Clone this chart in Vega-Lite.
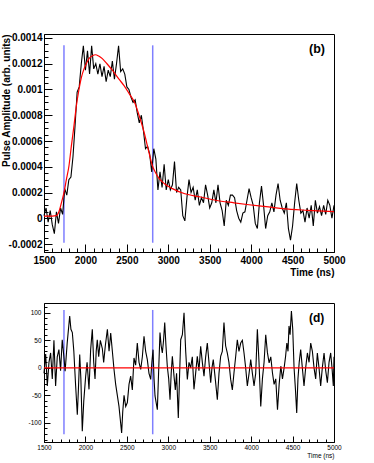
{
  "$schema": "https://vega.github.io/schema/vega-lite/v6.json",
  "padding": {"left": 0, "top": 32, "right": 5, "bottom": 5},
  "spacing": 24,
  "config": {
    "font": "Liberation Sans",
    "view": {"stroke": "black", "strokeWidth": 1},
    "axis": {"grid": false, "domainColor": "black", "tickColor": "black", "labelColor": "black", "titleColor": "black", "labelOverlap": false, "labelFlush": false, "labelBound": false}
  },
  "datasets": {
    "cutsTop": [{"t": 1741, "v": 0.001343, "lo": -0.00019}, {"t": 2812, "v": 0.001343, "lo": -0.00019}],
    "cutsBottom": [{"t": 1741, "v": 105, "lo": -120.5}, {"t": 2812, "v": 105, "lo": -120.5}],
    "top": [
      {"t":1500,"v":0.00002},{"t":1525,"v":0.00008},{"t":1550,"v":-0.00003},{"t":1575,"v":0.00006},{"t":1600,"v":-0.00005},{"t":1625,"v":-0.00012},{"t":1650,"v":0.00005},{"t":1675,"v":-0.00004},{"t":1700,"v":0.00008},{"t":1725,"v":0.00003},
      {"t":1750,"v":0.00023},{"t":1775,"v":0.00018},{"t":1800,"v":0.0003},{"t":1825,"v":0.00032},{"t":1850,"v":0.00048},{"t":1875,"v":0.00072},{"t":1900,"v":0.00098},{"t":1925,"v":0.00102},{"t":1950,"v":0.0012},{"t":1975,"v":0.00134},
      {"t":2000,"v":0.00115},{"t":2025,"v":0.0013},{"t":2050,"v":0.00112},{"t":2075,"v":0.00134},{"t":2100,"v":0.00116},{"t":2125,"v":0.0012},{"t":2150,"v":0.00112},{"t":2175,"v":0.0012},{"t":2200,"v":0.0011},{"t":2225,"v":0.00118},
      {"t":2250,"v":0.00106},{"t":2275,"v":0.00115},{"t":2300,"v":0.0011},{"t":2325,"v":0.00122},{"t":2350,"v":0.00108},{"t":2375,"v":0.0012},{"t":2400,"v":0.00134},{"t":2425,"v":0.00114},{"t":2450,"v":0.00116},{"t":2475,"v":0.00112},
      {"t":2500,"v":0.00102},{"t":2525,"v":0.001},{"t":2550,"v":0.00094},{"t":2575,"v":0.0009},{"t":2600,"v":0.00092},{"t":2625,"v":0.00082},{"t":2650,"v":0.00074},{"t":2675,"v":0.0008},{"t":2700,"v":0.00068},{"t":2725,"v":0.00054},
      {"t":2750,"v":0.00056},{"t":2775,"v":0.0005},{"t":2800,"v":0.00036},{"t":2825,"v":0.00054},{"t":2850,"v":0.00046},{"t":2875,"v":0.00022},{"t":2900,"v":0.00036},{"t":2925,"v":0.00024},{"t":2950,"v":0.00042},{"t":2975,"v":0.00022},
      {"t":3000,"v":0.0003},{"t":3025,"v":0.00022},{"t":3050,"v":0.00026},{"t":3075,"v":0.00044},{"t":3100,"v":0.0002},{"t":3125,"v":0.00024},{"t":3150,"v":0.00022},{"t":3175,"v":0.00002},{"t":3200,"v":-0.00002},{"t":3225,"v":0.00016},
      {"t":3250,"v":0.0003},{"t":3275,"v":0.0002},{"t":3300,"v":0.00024},{"t":3325,"v":0.00014},{"t":3350,"v":0.00022},{"t":3375,"v":0.0001},{"t":3400,"v":0.00016},{"t":3425,"v":0.00012},{"t":3450,"v":0.00026},{"t":3475,"v":0.00018},
      {"t":3500,"v":0.00008},{"t":3525,"v":0.00012},{"t":3550,"v":0.00022},{"t":3575,"v":0.00012},{"t":3600,"v":0.00026},{"t":3625,"v":0.00012},{"t":3650,"v":0.00006},{"t":3675,"v":-0.00006},{"t":3700,"v":0.00014},{"t":3725,"v":0.0001},
      {"t":3750,"v":0.00018},{"t":3775,"v":0.00018},{"t":3800,"v":0.00016},{"t":3825,"v":0.00006},{"t":3850,"v":0.0},{"t":3875,"v":-0.00003},{"t":3900,"v":0.00004},{"t":3925,"v":0.00005},{"t":3950,"v":0.00014},{"t":3975,"v":0.00023},
      {"t":4000,"v":0.00016},{"t":4025,"v":0.0001},{"t":4050,"v":-0.00004},{"t":4075,"v":-0.00008},{"t":4100,"v":0.00012},{"t":4125,"v":0.00025},{"t":4150,"v":0.0001},{"t":4175,"v":-0.00008},{"t":4200,"v":0.00002},{"t":4225,"v":0.00005},
      {"t":4250,"v":0.00012},{"t":4275,"v":0.00005},{"t":4300,"v":0.00018},{"t":4325,"v":0.00027},{"t":4350,"v":0.00014},{"t":4375,"v":0.00008},{"t":4400,"v":0.00004},{"t":4425,"v":0.00012},{"t":4450,"v":-0.00008},{"t":4475,"v":-0.00017},
      {"t":4500,"v":-0.00006},{"t":4525,"v":0.00012},{"t":4550,"v":0.00027},{"t":4575,"v":0.00014},{"t":4600,"v":0.00004},{"t":4625,"v":0.00006},{"t":4650,"v":-0.00003},{"t":4675,"v":0.00008},{"t":4700,"v":0.0},{"t":4725,"v":0.0001},
      {"t":4750,"v":-0.00006},{"t":4775,"v":0.00014},{"t":4800,"v":0.00004},{"t":4825,"v":0.00009},{"t":4850,"v":0.00002},{"t":4875,"v":0.0001},{"t":4900,"v":0.00003},{"t":4925,"v":0.00014},{"t":4950,"v":0.0001},{"t":4975,"v":0.0},{"t":5000,"v":0.0001}
    ],
    "fit": [
      {"t":1500,"v":0.000017},{"t":1600,"v":0.000017},{"t":1650,"v":0.00002},{"t":1680,"v":0.00005},{"t":1710,"v":0.00012},{"t":1741,"v":0.0002},{"t":1770,"v":0.0003},{"t":1802,"v":0.00041},{"t":1830,"v":0.00056},{"t":1862,"v":0.00072},
      {"t":1890,"v":0.00087},{"t":1922,"v":0.001},{"t":1950,"v":0.00109},{"t":1983,"v":0.00116},{"t":2010,"v":0.0012},{"t":2043,"v":0.00124},{"t":2080,"v":0.00126},{"t":2124,"v":0.00127},{"t":2160,"v":0.00126},{"t":2204,"v":0.00124},
      {"t":2260,"v":0.0012},{"t":2325,"v":0.00115},{"t":2405,"v":0.00108},{"t":2466,"v":0.00103},{"t":2526,"v":0.00097},{"t":2600,"v":0.00089},{"t":2647,"v":0.0008},{"t":2707,"v":0.00067},{"t":2767,"v":0.00051},{"t":2807,"v":0.00041},
      {"t":2850,"v":0.00035},{"t":2888,"v":0.00031},{"t":2950,"v":0.00027},{"t":3050,"v":0.00023},{"t":3200,"v":0.00019},{"t":3390,"v":0.000165},{"t":3572,"v":0.00014},{"t":3793,"v":0.00012},{"t":3974,"v":0.000105},{"t":4180,"v":0.00009},
      {"t":4377,"v":0.000075},{"t":4680,"v":0.000062},{"t":5000,"v":0.000052}
    ],
    "resid": [
      {"t":1500,"v":-10},{"t":1520,"v":25},{"t":1540,"v":-33},{"t":1560,"v":10},{"t":1580,"v":27},{"t":1600,"v":-20},{"t":1620,"v":50},{"t":1640,"v":-33},{"t":1660,"v":20},{"t":1680,"v":33},
      {"t":1700,"v":-5},{"t":1720,"v":51},{"t":1740,"v":20},{"t":1755,"v":-6},{"t":1780,"v":45},{"t":1810,"v":94},{"t":1825,"v":70},{"t":1842,"v":64},{"t":1860,"v":30},{"t":1882,"v":-33},
      {"t":1902,"v":-85},{"t":1915,"v":-40},{"t":1931,"v":24},{"t":1945,"v":-20},{"t":1962,"v":-115},{"t":1980,"v":-60},{"t":2003,"v":-15},{"t":2020,"v":10},{"t":2043,"v":-39},{"t":2063,"v":33},
      {"t":2083,"v":70},{"t":2100,"v":10},{"t":2116,"v":-20},{"t":2130,"v":30},{"t":2143,"v":51},{"t":2160,"v":20},{"t":2180,"v":50},{"t":2204,"v":35},{"t":2220,"v":10},{"t":2240,"v":40},
      {"t":2265,"v":70},{"t":2285,"v":30},{"t":2305,"v":63},{"t":2325,"v":30},{"t":2345,"v":-3},{"t":2365,"v":-30},{"t":2385,"v":-50},{"t":2405,"v":-70},{"t":2425,"v":-100},{"t":2437,"v":-118},
      {"t":2450,"v":-80},{"t":2466,"v":-50},{"t":2486,"v":-70},{"t":2506,"v":-63},{"t":2526,"v":-30},{"t":2546,"v":-15},{"t":2566,"v":-40},{"t":2586,"v":18},{"t":2606,"v":5},{"t":2626,"v":45},
      {"t":2647,"v":10},{"t":2667,"v":-3},{"t":2687,"v":20},{"t":2707,"v":57},{"t":2727,"v":30},{"t":2747,"v":15},{"t":2767,"v":-10},{"t":2788,"v":-21},{"t":2802,"v":10},{"t":2816,"v":33},
      {"t":2828,"v":-20},{"t":2840,"v":-51},{"t":2868,"v":-76},{"t":2885,"v":0},{"t":2900,"v":64},{"t":2914,"v":40},{"t":2928,"v":27},{"t":2943,"v":50},{"t":2957,"v":82},{"t":2972,"v":40},
      {"t":2988,"v":3},{"t":3005,"v":-20},{"t":3021,"v":-58},{"t":3035,"v":-10},{"t":3049,"v":21},{"t":3069,"v":-15},{"t":3085,"v":-40},{"t":3100,"v":-10},{"t":3121,"v":-91},{"t":3135,"v":-20},
      {"t":3150,"v":51},{"t":3170,"v":60},{"t":3190,"v":100},{"t":3210,"v":30},{"t":3230,"v":-21},{"t":3250,"v":10},{"t":3270,"v":0},{"t":3290,"v":20},{"t":3310,"v":-39},{"t":3330,"v":-10},
      {"t":3350,"v":21},{"t":3370,"v":-5},{"t":3391,"v":39},{"t":3411,"v":10},{"t":3431,"v":-15},{"t":3451,"v":20},{"t":3471,"v":45},{"t":3491,"v":10},{"t":3512,"v":-27},{"t":3527,"v":0},
      {"t":3543,"v":15},{"t":3567,"v":-20},{"t":3592,"v":-58},{"t":3612,"v":-10},{"t":3632,"v":21},{"t":3652,"v":30},{"t":3672,"v":82},{"t":3692,"v":40},{"t":3712,"v":27},{"t":3732,"v":10},
      {"t":3753,"v":-21},{"t":3773,"v":-40},{"t":3793,"v":-9},{"t":3813,"v":20},{"t":3833,"v":51},{"t":3853,"v":30},{"t":3874,"v":45},{"t":3894,"v":50},{"t":3914,"v":27},{"t":3934,"v":0},
      {"t":3954,"v":-33},{"t":3975,"v":-10},{"t":3995,"v":15},{"t":4015,"v":-10},{"t":4035,"v":-33},{"t":4055,"v":-10},{"t":4075,"v":70},{"t":4095,"v":10},{"t":4116,"v":-70},{"t":4136,"v":-20},
      {"t":4156,"v":10},{"t":4176,"v":60},{"t":4196,"v":28},{"t":4217,"v":9},{"t":4237,"v":20},{"t":4257,"v":-9},{"t":4277,"v":-30},{"t":4297,"v":-20},{"t":4318,"v":-76},{"t":4338,"v":-30},
      {"t":4358,"v":3},{"t":4378,"v":-20},{"t":4398,"v":0},{"t":4415,"v":20},{"t":4431,"v":45},{"t":4445,"v":30},{"t":4457,"v":76},{"t":4470,"v":60},{"t":4486,"v":103},{"t":4502,"v":70},
      {"t":4518,"v":0},{"t":4535,"v":-40},{"t":4550,"v":-82},{"t":4565,"v":-20},{"t":4580,"v":10},{"t":4598,"v":33},{"t":4618,"v":0},{"t":4638,"v":-33},{"t":4658,"v":0},{"t":4679,"v":27},
      {"t":4699,"v":10},{"t":4719,"v":45},{"t":4739,"v":30},{"t":4759,"v":0},{"t":4779,"v":-20},{"t":4799,"v":27},{"t":4819,"v":0},{"t":4839,"v":-33},{"t":4859,"v":0},{"t":4880,"v":27},
      {"t":4900,"v":-5},{"t":4920,"v":-27},{"t":4940,"v":10},{"t":4960,"v":27},{"t":4976,"v":0},{"t":4992,"v":-33},{"t":5000,"v":20}
    ]
  },
  "vconcat": [
    {
      "width": 290,
      "height": 218,
      "encoding": {
        "x": {
          "field": "t", "type": "quantitative",
          "scale": {"domain": [1500, 5000], "nice": false, "zero": false},
          "axis": {
            "values": [1500,1600,1700,1800,1900,2000,2100,2200,2300,2400,2500,2600,2700,2800,2900,3000,3100,3200,3300,3400,3500,3600,3700,3800,3900,4000,4100,4200,4300,4400,4500,4600,4700,4800,4900,5000],
            "format": "d",
            "labelExpr": "datum.value % 500 === 0 ? datum.label : ''",
            "tickSize": {"condition": {"test": "datum.value % 500 === 0", "value": -8}, "value": -4},
            "labelFontSize": 10, "labelFontWeight": "bold", "labelPadding": 11,
            "title": "Time (ns)", "titleAnchor": "end", "titleFontSize": 10, "titleFontWeight": "bold", "titlePadding": -2
          }
        },
        "y": {
          "field": "v", "type": "quantitative",
          "scale": {"domain": [-0.000262, 0.001431], "nice": false, "zero": false},
          "axis": {
            "values": [-0.00025,-0.0002,-0.00015,-0.0001,-0.00005,0,0.00005,0.0001,0.00015,0.0002,0.00025,0.0003,0.00035,0.0004,0.00045,0.0005,0.00055,0.0006,0.00065,0.0007,0.00075,0.0008,0.00085,0.0009,0.00095,0.001,0.00105,0.0011,0.00115,0.0012,0.00125,0.0013,0.00135,0.0014],
            "labelExpr": "abs(datum.value*10000 - 2*round(datum.value*5000)) < 0.01 ? (abs(datum.value) < 0.000001 ? '0' : replace(format(datum.value, '.4~f'), '\u2212', '-')) : ''",
            "tickSize": {"condition": {"test": "abs(datum.value*10000 - 2*round(datum.value*5000)) < 0.01", "value": -8}, "value": -4},
            "labelFontSize": 10, "labelFontWeight": "bold", "labelPadding": 10,
            "title": "Pulse Amplitude (arb. units)", "titleAnchor": "end", "titleFontSize": 10, "titleFontWeight": "bold", "titlePadding": -3
          }
        }
      },
      "layer": [
        {
          "data": {"name": "cutsTop"},
          "mark": {"type": "rule", "color": "#7f7fff", "strokeWidth": 1.5},
          "encoding": {"y2": {"field": "lo"}}
        },
        {
          "data": {"name": "top"},
          "mark": {"type": "line", "color": "black", "strokeWidth": 1.1}
        },
        {
          "data": {"name": "fit"},
          "mark": {"type": "line", "color": "#ff0000", "strokeWidth": 1.2, "interpolate": "monotone"}
        },
        {
          "data": {"values": [{"label": "(b)", "t": 4795, "v": 0.001317}]},
          "mark": {"type": "text", "fontSize": 12.5, "fontWeight": "bold", "align": "center", "baseline": "middle", "color": "black"},
          "encoding": {"text": {"field": "label"}}
        }
      ]
    },
    {
      "width": 290,
      "height": 139,
      "encoding": {
        "x": {
          "field": "t", "type": "quantitative",
          "scale": {"domain": [1500, 5000], "nice": false, "zero": false},
          "axis": {
            "values": [1500,1600,1700,1800,1900,2000,2100,2200,2300,2400,2500,2600,2700,2800,2900,3000,3100,3200,3300,3400,3500,3600,3700,3800,3900,4000,4100,4200,4300,4400,4500,4600,4700,4800,4900,5000],
            "format": "d",
            "labelExpr": "datum.value % 500 === 0 ? datum.label : ''",
            "tickSize": {"condition": {"test": "datum.value % 500 === 0", "value": -6}, "value": -3},
            "labelFontSize": 6.5, "labelPadding": 8,
            "title": "Time (ns)", "titleAnchor": "end", "titleFontSize": 6.5, "titleFontWeight": "normal", "titlePadding": -1
          }
        },
        "y": {
          "field": "v", "type": "quantitative",
          "scale": {"domain": [-134.5, 117.6], "nice": false, "zero": false},
          "axis": {
            "values": [-130,-120,-110,-100,-90,-80,-70,-60,-50,-40,-30,-20,-10,0,10,20,30,40,50,60,70,80,90,100,110],
            "labelExpr": "datum.value % 50 === 0 ? replace(format(datum.value, 'd'), '\u2212', '-') : ''",
            "tickSize": {"condition": {"test": "datum.value % 50 === 0", "value": -6}, "value": -3},
            "labelFontSize": 6.5, "labelPadding": 9,
            "title": null
          }
        }
      },
      "layer": [
        {
          "data": {"name": "cutsBottom"},
          "mark": {"type": "rule", "color": "#7f7fff", "strokeWidth": 1.5},
          "encoding": {"y2": {"field": "lo"}}
        },
        {
          "data": {"name": "resid"},
          "mark": {"type": "line", "color": "black", "strokeWidth": 1.1}
        },
        {
          "data": {"values": [{"zero": 0}]},
          "mark": {"type": "rule", "color": "#ff0000", "strokeWidth": 1.2},
          "encoding": {"x": null, "y": {"field": "zero", "type": "quantitative"}}
        },
        {
          "data": {"values": [{"label": "(d)", "t": 4790, "v": 90}]},
          "mark": {"type": "text", "fontSize": 12, "fontWeight": "bold", "align": "center", "baseline": "middle", "color": "black"},
          "encoding": {"text": {"field": "label"}}
        }
      ]
    }
  ]
}
